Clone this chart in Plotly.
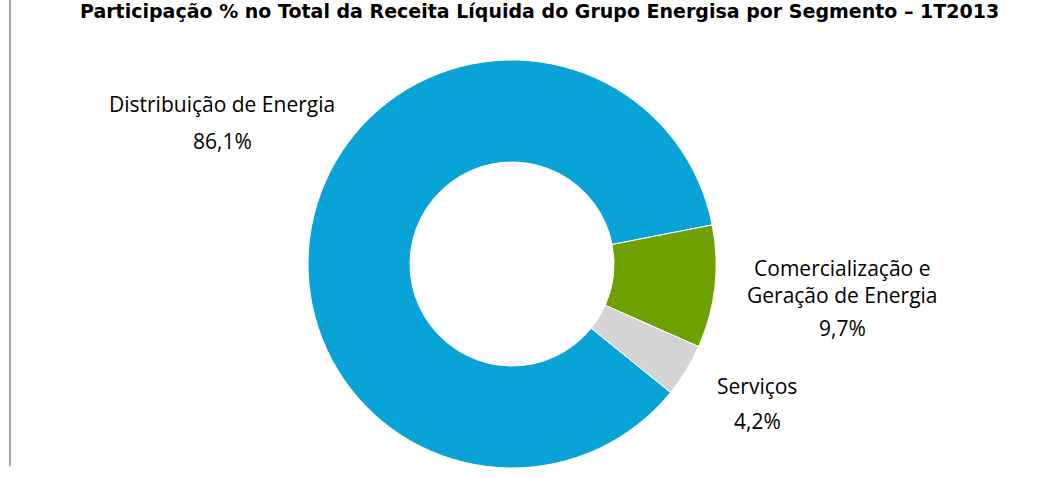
import plotly.graph_objects as go

segments = ["Distribuição de Energia", "Comercialização e Geração de Energia", "Serviços"]
label_names = ["Distribuição de Energia", "Comercialização e<br>Geração de Energia", "Serviços"]
shares = [86.1, 9.7, 4.2]
share_text = ["86,1%", "9,7%", "4,2%"]
colors = ["#0AA3D8", "#6EA000", "#D4D4D4"]
title = "Participação % no Total da Receita Líquida do Grupo Energisa por Segmento – 1T2013"

W, H = 1063, 478

def px(x):
    return x / W

def py(y):
    return 1 - y / H

fig = go.Figure()
fig.add_trace(go.Pie(
    labels=segments,
    values=shares,
    hole=0.5,
    sort=False,
    direction="clockwise",
    rotation=129,
    marker=dict(colors=colors, line=dict(color="#FFFFFF", width=1)),
    textinfo="none",
    hoverinfo="label+percent",
    showlegend=False,
    domain=dict(x=[px(308), px(716)], y=[py(468), py(60)]),
))

label_font = dict(family="Open Sans, DejaVu Sans, sans-serif", size=21, color="#000000")
# label positions in pixels: (x center, y center of name block, y center of value)
label_pos = [
    (222, 104, 141),
    (842, 281, 328),
    (757, 386, 421),
]
annotations = []
for name, val, (xc, yn, yv) in zip(label_names, share_text, label_pos):
    annotations.append(dict(x=px(xc), y=py(yn), xref="paper", yref="paper",
                            text=name, showarrow=False, font=label_font,
                            xanchor="center", yanchor="middle", align="center"))
    annotations.append(dict(x=px(xc), y=py(yv), xref="paper", yref="paper",
                            text=val, showarrow=False, font=label_font,
                            xanchor="center", yanchor="middle", align="center"))

annotations.append(dict(x=px(539), y=py(11), xref="paper", yref="paper", text="<b>" + title + "</b>",
                        showarrow=False, xanchor="center", yanchor="middle",
                        font=dict(family="DejaVu Sans, sans-serif", size=19, color="#000000")))

fig.update_layout(
    width=W, height=H,
    margin=dict(l=0, r=0, t=0, b=0),
    paper_bgcolor="#FFFFFF",
    plot_bgcolor="#FFFFFF",
    annotations=annotations,
    shapes=[dict(type="line", xref="paper", yref="paper", x0=px(10), x1=px(10), y0=py(466), y1=1,
                 line=dict(color="#A6A6A6", width=2))],
)

fig.write_html("out.html")
